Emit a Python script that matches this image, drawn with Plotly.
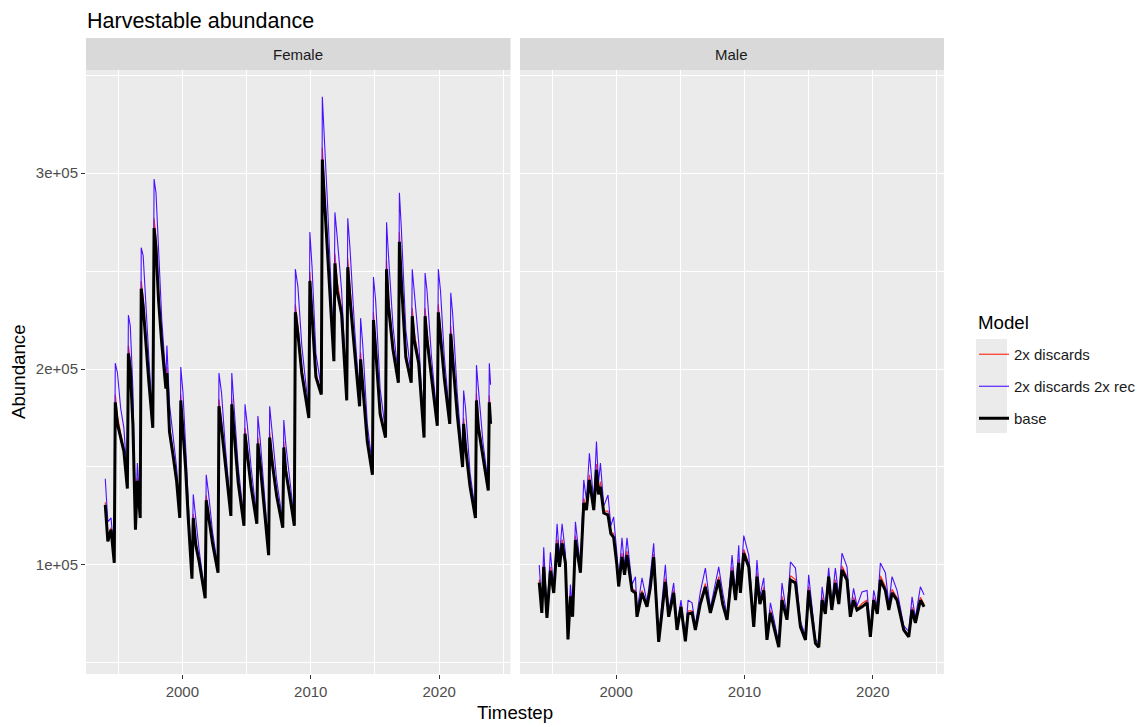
import plotly.graph_objects as go

# ---------------- data ----------------
models = ["2x discards", "2x discards 2x rec", "base"]
panels = ["Female", "Male"]

female_t = [1994.00, 1994.20, 1994.45, 1994.70, 1994.78, 1994.95, 1995.20, 1995.45, 1995.72, 1995.80,
            1995.95, 1996.15, 1996.35, 1996.50, 1996.72, 1996.80, 1996.95, 1997.15, 1997.40, 1997.70,
            1997.80, 1997.95, 1998.15, 1998.40, 1998.72, 1998.80, 1999.00, 1999.30, 1999.55, 1999.80,
            1999.88, 2000.05, 2000.25, 2000.45, 2000.75, 2000.85, 2001.05, 2001.30, 2001.50, 2001.78,
            2001.86, 2002.05, 2002.35, 2002.78, 2002.85, 2003.05, 2003.35, 2003.60, 2003.78, 2003.85,
            2004.05, 2004.35, 2004.80, 2004.88, 2005.05, 2005.35, 2005.80, 2005.88, 2006.05, 2006.35,
            2006.72, 2006.80, 2007.00, 2007.35, 2007.82, 2007.90, 2008.05, 2008.35, 2008.72, 2008.80,
            2009.00, 2009.30, 2009.85, 2009.93, 2010.10, 2010.40, 2010.82, 2010.90, 2011.05, 2011.30,
            2011.80, 2011.88, 2012.05, 2012.40, 2012.80, 2012.88, 2013.05, 2013.40, 2013.80, 2013.88,
            2014.05, 2014.40, 2014.80, 2014.88, 2015.05, 2015.40, 2015.82, 2015.90, 2016.05, 2016.40,
            2016.82, 2016.90, 2017.05, 2017.40, 2017.82, 2017.90, 2018.05, 2018.40, 2018.82, 2018.90,
            2019.05, 2019.40, 2019.85, 2019.93, 2020.10, 2020.40, 2020.82, 2020.90, 2021.05, 2021.40,
            2021.82, 2021.90, 2022.05, 2022.40, 2022.82, 2022.90, 2023.05, 2023.40, 2023.82, 2023.90,
            2024.00]

female_base = [130600, 112000, 118000, 101000, 183000, 172000, 165000, 158000, 139000, 208000,
               200000, 172000, 118000, 143000, 124000, 241000, 232000, 213000, 193000, 170000,
               272000, 262000, 235000, 213000, 190000, 198000, 168000, 155000, 143000, 124000,
               184000, 168000, 150000, 125000, 93000, 124000, 110000, 102000, 94000, 83000,
               133000, 124000, 111000, 96000, 181000, 170000, 150000, 135000, 125000, 182000,
               165000, 142000, 120000, 167000, 157000, 140000, 121000, 162000, 152000, 130000,
               105000, 165000, 152000, 135000, 119000, 160000, 148000, 136000, 120000, 229000,
               218000, 198000, 175000, 245000, 226000, 196000, 187000, 307000, 288000, 262000,
               204000, 254000, 240000, 228000, 184000, 252000, 236000, 210000, 181000, 205000,
               190000, 163000, 146000, 225000, 210000, 177000, 165000, 251000, 232000, 210000,
               193000, 265000, 245000, 206000, 193000, 227000, 215000, 203000, 165000, 227000,
               215000, 195000, 171000, 229000, 215000, 195000, 172000, 218000, 205000, 177000,
               150000, 172000, 160000, 140000, 124000, 184000, 170000, 155000, 138000, 183000,
               172000]

female_disc = [132000, 113000, 119000, 101500, 187000, 176000, 167000, 159500, 139500, 212000,
               204000, 174500, 119000, 144500, 124500, 245000, 236000, 216000, 195000, 170500,
               277000, 267000, 239000, 215500, 190500, 201000, 171000, 157000, 144000, 124500,
               187000, 171000, 152000, 126000, 93500, 126000, 112000, 103000, 94500, 83300,
               135500, 126000, 112000, 96500, 184500, 173000, 152000, 136000, 125500, 185000,
               168000, 143500, 120500, 170000, 160000, 141500, 121500, 165000, 154500, 131500,
               105500, 168000, 155000, 136500, 119500, 163000, 150500, 137500, 120500, 233000,
               222000, 200500, 175500, 249500, 230000, 198000, 187500, 313000, 294000, 266000,
               204500, 259000, 245000, 230500, 184500, 256500, 240500, 212500, 181500, 208500,
               193500, 165000, 146500, 229000, 214000, 179000, 165500, 255500, 236500, 212500,
               193500, 270000, 249500, 208500, 193500, 231000, 219000, 205000, 165500, 231000,
               219000, 197000, 171500, 233000, 219000, 197000, 172500, 222000, 209000, 179000,
               150500, 175000, 163000, 141500, 124500, 187500, 173000, 156500, 138500, 186500,
               175000]

female_rec = [144000, 122000, 124000, 104000, 203000, 198000, 180000, 170000, 143000, 227500,
              222000, 190000, 124000, 152000, 128000, 262000, 258000, 232000, 205000, 174000,
              297000, 290000, 262000, 225000, 195000, 212000, 182000, 165000, 150000, 127000,
              201000, 188000, 160000, 130000, 95000, 136000, 122000, 108000, 98000, 85000,
              146000, 136000, 117000, 98000, 198000, 188000, 160000, 140000, 128000, 198000,
              180000, 150000, 123000, 182000, 172000, 150000, 124000, 176000, 165000, 138000,
              108000, 181000, 168000, 143000, 122000, 174000, 162000, 143000, 123000, 251000,
              242000, 212000, 178000, 270000, 252000, 208000, 190000, 339000, 320000, 285000,
              208000, 280000, 268000, 240000, 188000, 277000, 262000, 222000, 185000, 226000,
              212000, 172000, 150000, 247000, 235000, 190000, 168000, 275000, 258000, 222000,
              196000, 290000, 272000, 220000, 196000, 251000, 240000, 214000, 168000, 249000,
              240000, 206000, 174000, 251000, 240000, 206000, 175000, 239000, 228000, 188000,
              153000, 189000, 180000, 147000, 127000, 202000, 190000, 163000, 141000, 203000,
              192000]

male_t = [1994.00, 1994.20, 1994.35, 1994.60, 1994.87, 1995.13, 1995.39, 1995.58, 1995.78, 1996.04,
          1996.24, 1996.43, 1996.60, 1996.82, 1997.21, 1997.47, 1997.68, 1997.91, 1998.25, 1998.46,
          1998.62, 1998.77, 1999.03, 1999.36, 1999.58, 1999.80, 2000.05, 2000.19, 2000.45, 2000.65,
          2000.84, 2001.23, 2001.50, 2001.62, 2002.01, 2002.40, 2002.65, 2002.92, 2003.31, 2003.83,
          2004.09, 2004.48, 2004.74, 2005.05, 2005.39, 2005.60, 2005.91, 2006.17, 2006.55, 2006.95,
          2007.34, 2007.99, 2008.30, 2008.64, 2009.03, 2009.30, 2009.55, 2009.68, 2009.94, 2010.33,
          2010.72, 2010.97, 2011.20, 2011.50, 2011.75, 2012.02, 2012.30, 2012.67, 2012.92, 2013.31,
          2013.58, 2013.97, 2014.36, 2014.75, 2015.00, 2015.53, 2015.79, 2016.05, 2016.30, 2016.56,
          2016.80, 2017.08, 2017.35, 2017.60, 2017.99, 2018.25, 2018.50, 2018.77, 2019.16, 2019.55,
          2019.81, 2020.07, 2020.35, 2020.59, 2020.98, 2021.25, 2021.50, 2021.89, 2022.41, 2022.80,
          2023.06, 2023.32, 2023.71, 2024.00]

male_base = [91000, 75500, 99000, 73000, 97000, 85700, 111000, 99000, 111000, 101000,
             62000, 84000, 73500, 112700, 96000, 131600, 128000, 143400, 128000, 148500,
             136000, 140000, 126500, 125500, 116000, 114000, 100000, 89000, 104000, 95000,
             105000, 87000, 85700, 73500, 85700, 78600, 88000, 104000, 60700, 91300,
             73500, 85700, 66800, 78600, 61000, 75000, 75500, 66800, 80000, 88800,
             75500, 92300, 80000, 72000, 97000, 82000, 101000, 85700, 106000, 99000,
             68400, 94000, 80000, 87000, 61700, 75500, 68000, 58000, 82000, 72000,
             92300, 90800, 68400, 61700, 87000, 60000, 58000, 82000, 75000, 94000,
             77000, 90800, 80000, 97400, 92300, 73500, 82000, 77000, 78600, 80600,
             63300, 82000, 75000, 92300, 87000, 77000, 85700, 82000, 66800, 63300,
             77000, 70400, 82000, 78600]

male_disc = [92500, 76000, 101000, 73500, 99000, 86500, 113000, 100000, 113000, 102000,
             62500, 85500, 74000, 115000, 97000, 134000, 129500, 146000, 129000, 151500,
             137500, 142500, 127500, 127500, 117000, 116000, 101000, 89500, 106000, 96000,
             107000, 87500, 87000, 74000, 87000, 79000, 89000, 105500, 61000, 93000,
             74000, 87000, 67200, 79500, 61400, 76500, 76500, 67200, 81500, 90500,
             76000, 94000, 81000, 72500, 99000, 82800, 103000, 86500, 108000, 100500,
             69000, 96000, 81000, 88500, 62200, 76800, 69000, 58500, 84000, 72500,
             94500, 92500, 69000, 62200, 89000, 60500, 58500, 83500, 75800, 95000,
             77800, 92500, 81000, 99500, 94000, 74000, 83500, 77500, 80300, 82000,
             63800, 83300, 75800, 94500, 89000, 77800, 87500, 83300, 67300, 63800,
             78500, 71000, 83500, 80000]

male_rec = [100000, 78000, 109000, 75000, 106500, 88000, 121000, 104000, 121000, 106000,
            64000, 90000, 76000, 122000, 99000, 143400, 133000, 157000, 132000, 163000,
            142000, 152000, 130000, 135700, 120000, 124500, 106000, 92000, 113800, 99000,
            113800, 90000, 94000, 76000, 93400, 81000, 94000, 111000, 63000, 100000,
            76000, 90800, 69000, 82000, 63000, 82000, 80600, 69000, 86000, 98400,
            78000, 99000, 86000, 74000, 105000, 85000, 110000, 88000, 115000, 105000,
            71000, 102500, 84000, 93400, 64000, 80600, 72000, 60000, 90800, 74000,
            101500, 98400, 71000, 64000, 95000, 62000, 60000, 88800, 78000, 98500,
            80000, 98400, 84000, 106000, 99000, 76000, 88000, 79000, 86200, 87000,
            66000, 87000, 79000, 101000, 96000, 80000, 94000, 87000, 69000, 66000,
            83700, 73000, 88800, 84700]

y_tickvals = [100000, 200000, 300000]
y_ticktext = ["1e+05", "2e+05", "3e+05"]
y_minor = [50000, 150000, 250000, 350000]
x_tickvals = [2000, 2010, 2020]
x_ticktext = ["2000", "2010", "2020"]
x_minor = [1995, 2005, 2015, 2025]

# ---------------- styling ----------------
colors = {"2x discards": "#FF3320", "2x discards 2x rec": "#4A10FF", "base": "#000000"}
widths = {"2x discards": 1.2, "2x discards 2x rec": 1.1, "base": 3.0}
FONT = "Liberation Sans, Arial, sans-serif"
F_TICK = 15
F_AXIS = 18.7
F_TITLE = 21.5

series = {
    "Female": {"t": female_t, "2x discards": female_disc, "2x discards 2x rec": female_rec, "base": female_base},
    "Male": {"t": male_t, "2x discards": male_disc, "2x discards 2x rec": male_rec, "base": male_base},
}

fig = go.Figure()
for i, panel in enumerate(panels):
    d = series[panel]
    xa = "x" if i == 0 else "x2"
    ya = "y" if i == 0 else "y2"
    for m in models:
        fig.add_trace(go.Scatter(
            x=d["t"], y=d[m], mode="lines", name=m,
            line=dict(color=colors[m], width=widths[m]),
            xaxis=xa, yaxis=ya, legendgroup=m, showlegend=(i == 0),
            hoverinfo="skip",
        ))

# page has an 8px body margin; layout expressed in reference-screen pixels
OFF = 8
W, H = 1146, 727
REF_L, REF_R, REF_T, REF_B, REF_PANEL_T = 86, 944, 38, 674, 70
ml = REF_L - OFF
mt = REF_T - OFF
mr = W - (REF_R - OFF)
mb = H - (REF_B - OFF)
pw = REF_R - REF_L
ph = REF_B - REF_T


def px_x(px):
    return (px - REF_L) / pw


def px_y(py):
    return (REF_B - py) / ph


panel_top = px_y(REF_PANEL_T)
f_dom = [0, px_x(510.5)]
m_dom = [px_x(520), 1]

xrange = [1992.5, 2025.55]
yrange = [44300, 352700]


def xaxis(dom, anchor):
    return dict(domain=dom, range=xrange, tickmode="array", tickvals=x_tickvals, ticktext=x_ticktext,
                showgrid=True, gridcolor="white", gridwidth=1.4, zeroline=False,
                ticks="outside", ticklen=4, tickwidth=1.1, tickcolor="#333333",
                tickfont=dict(family=FONT, size=F_TICK, color="#4D4D4D"),
                minor=dict(tickmode="array", tickvals=x_minor, showgrid=True, gridcolor="white",
                           gridwidth=0.7, ticks=""),
                showline=False, anchor=anchor, fixedrange=True)


def yaxis(show_labels, anchor):
    return dict(domain=[0, panel_top], range=yrange, tickmode="array", tickvals=y_tickvals,
                ticktext=y_ticktext if show_labels else ["", "", ""],
                showgrid=True, gridcolor="white", gridwidth=1.4, zeroline=False,
                ticks="outside" if show_labels else "", ticklen=4, tickwidth=1.1, tickcolor="#333333",
                tickfont=dict(family=FONT, size=F_TICK, color="#4D4D4D"),
                minor=dict(tickmode="array", tickvals=y_minor, showgrid=True, gridcolor="white",
                           gridwidth=0.7, ticks=""),
                showline=False, anchor=anchor, fixedrange=True)


shapes = []
annotations = []
for dom, label in [(f_dom, "Female"), (m_dom, "Male")]:
    shapes.append(dict(type="rect", xref="paper", yref="paper", x0=dom[0], x1=dom[1], y0=0, y1=panel_top,
                       fillcolor="#EBEBEB", line=dict(width=0), layer="below"))
    shapes.append(dict(type="rect", xref="paper", yref="paper", x0=dom[0], x1=dom[1], y0=panel_top, y1=1,
                       fillcolor="#D9D9D9", line=dict(width=0), layer="below"))
    annotations.append(dict(text=label, xref="paper", yref="paper", x=(dom[0] + dom[1]) / 2,
                            y=(panel_top + 1) / 2, showarrow=False, xanchor="center", yanchor="middle",
                            font=dict(family=FONT, size=F_TICK, color="#1A1A1A")))

# legend key background
shapes.append(dict(type="rect", xref="paper", yref="paper", x0=px_x(976), x1=px_x(1007),
                   y0=px_y(433), y1=px_y(339), fillcolor="#EBEBEB", line=dict(width=0), layer="below"))

annotations.append(dict(text="Model", xref="paper", yref="paper", x=px_x(976), y=px_y(322),
                        showarrow=False, xanchor="left", yanchor="middle",
                        font=dict(family=FONT, size=F_AXIS, color="#000000")))
annotations.append(dict(text="Abundance", xref="paper", yref="paper", x=px_x(18), y=px_y(372),
                        textangle=-90, showarrow=False, xanchor="center", yanchor="middle",
                        font=dict(family=FONT, size=F_AXIS, color="#000000")))
annotations.append(dict(text="Timestep", xref="paper", yref="paper", x=px_x(515), y=px_y(712),
                        showarrow=False, xanchor="center", yanchor="middle",
                        font=dict(family=FONT, size=F_AXIS, color="#000000")))

fig.update_layout(
    width=W, height=H,
    margin=dict(l=ml, r=mr, t=mt, b=mb, autoexpand=False),
    paper_bgcolor="white", plot_bgcolor="rgba(0,0,0,0)",
    font=dict(family=FONT),
    title=dict(text="Harvestable abundance", x=(87 - OFF) / W, xref="container", xanchor="left",
               y=1 - (20 - OFF) / H, yref="container", yanchor="middle",
               font=dict(family=FONT, size=F_TITLE, color="#000000")),
    xaxis=xaxis(f_dom, "y"), xaxis2=xaxis(m_dom, "y2"),
    yaxis=yaxis(True, "x"), yaxis2=yaxis(False, "x2"),
    shapes=shapes, annotations=annotations,
    legend=dict(x=px_x(974), xanchor="left", y=px_y(338), yanchor="top",
                bgcolor="rgba(0,0,0,0)", borderwidth=0, tracegroupgap=9.5,
                font=dict(family=FONT, size=F_TICK, color="#1A1A1A")),
    showlegend=True,
)

fig.write_html("out.html")
